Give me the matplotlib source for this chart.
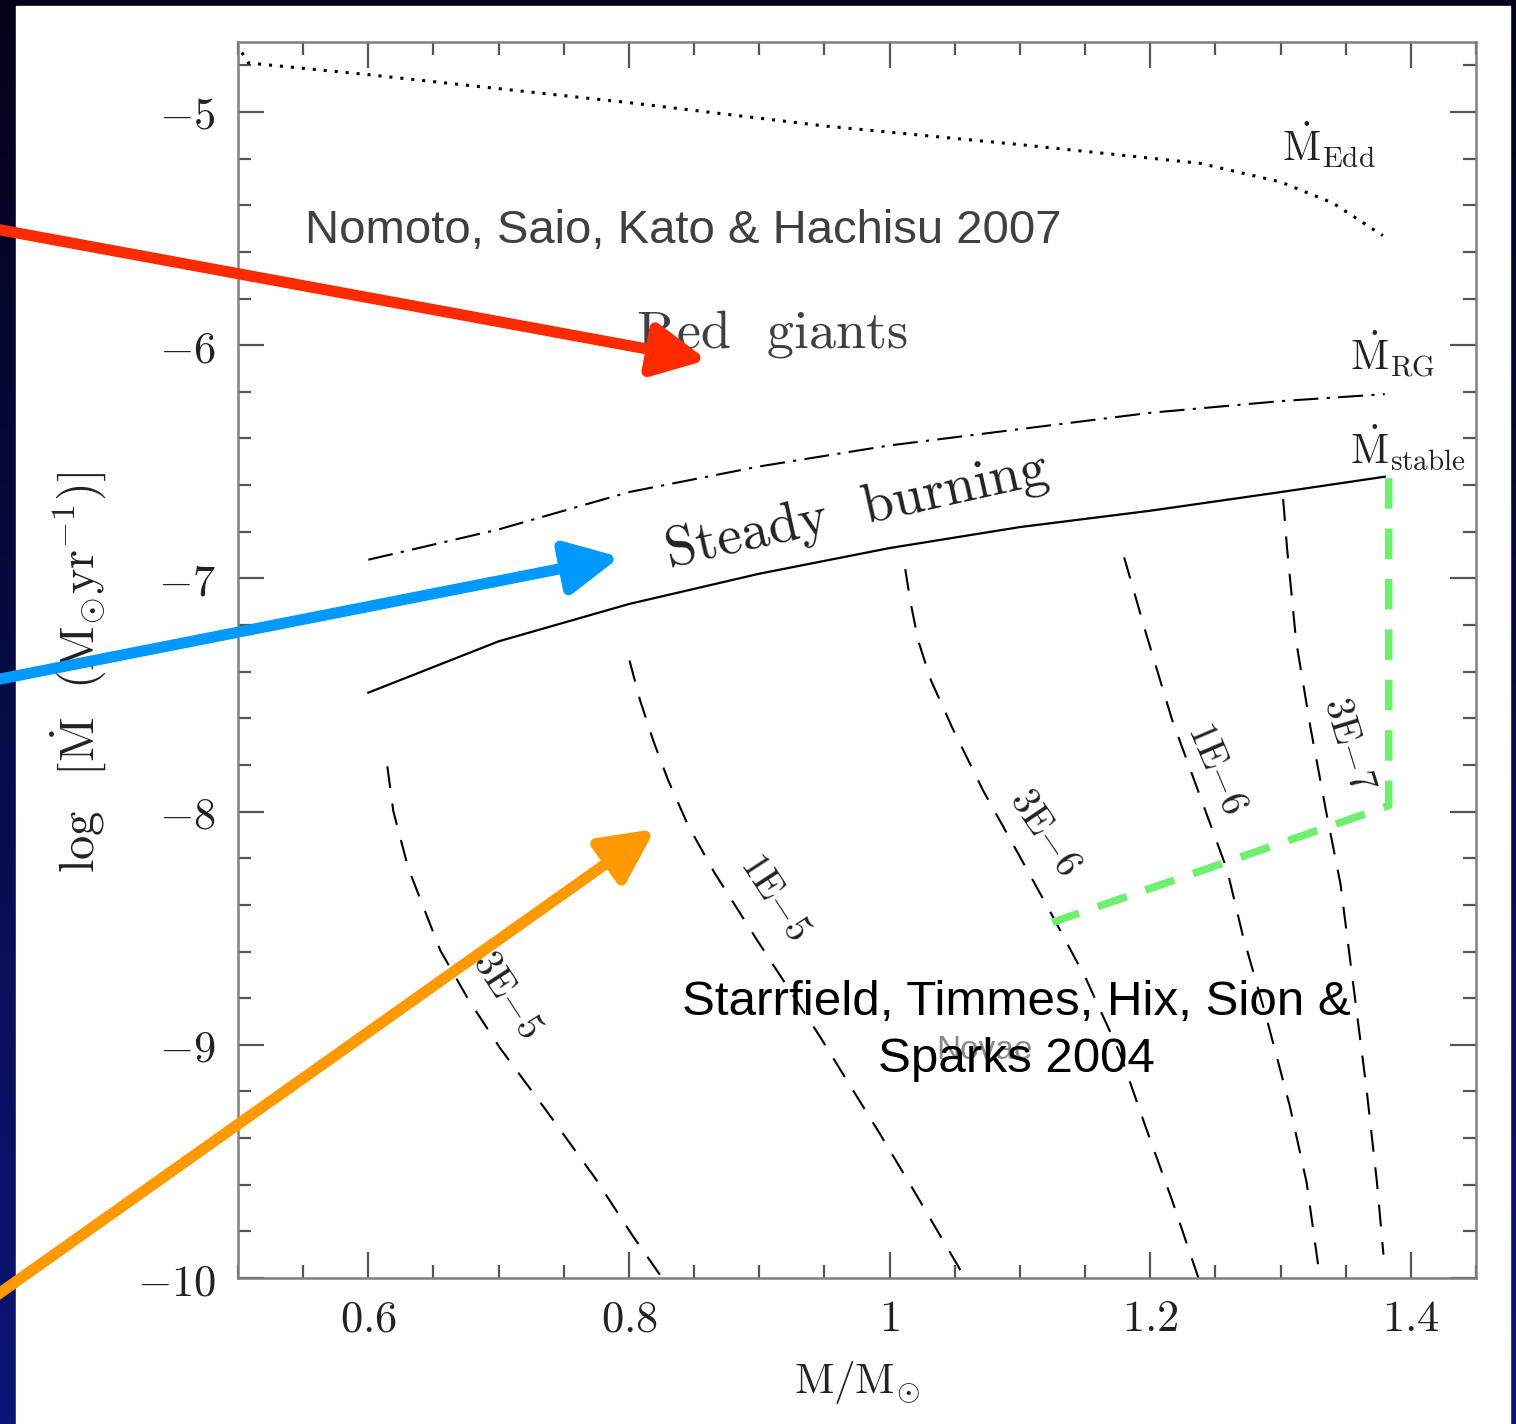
import numpy as np
import matplotlib
matplotlib.use('Agg')
import matplotlib.pyplot as plt
from matplotlib.patches import FancyArrowPatch, Rectangle, ArrowStyle
from matplotlib.ticker import MultipleLocator, FixedLocator, FixedFormatter

plt.rcParams['mathtext.fontset'] = 'cm'

# Eddington limit (dotted)
edd_m = [0.503, 0.508, 0.60, 0.70, 0.80, 0.95, 1.10, 1.238, 1.30, 1.34, 1.3785]
edd_y = [-4.745, -4.79, -4.84, -4.90, -4.96, -5.06, -5.14, -5.22, -5.30, -5.39, -5.53]

# red giant boundary (dash-dot)
rg_m = [0.6, 0.7, 0.8, 0.9, 1.0, 1.1, 1.2, 1.3, 1.38]
rg_y = [-6.92, -6.79, -6.63, -6.52, -6.43, -6.36, -6.29, -6.24, -6.21]

# steady burning lower boundary (solid)
stable_m = [0.6, 0.7, 0.8, 0.9, 1.0, 1.1, 1.2, 1.3, 1.38]
stable_y = [-7.49, -7.27, -7.11, -6.98, -6.87, -6.78, -6.71, -6.63, -6.564]

# accreted mass contours (dashed)
contour_labels = ['3E{-}5', '1E{-}5', '3E{-}6', '1E{-}6', '3E{-}7']
c3e5_m = [0.6146, 0.6192, 0.6307, 0.6552, 0.6767, 0.7012, 0.7358, 0.7741, 0.8025, 0.8255]
c3e5_y = [-7.806, -7.999, -8.243, -8.595, -8.805, -9.015, -9.276, -9.572, -9.816, -10.0]
c1e5_m = [0.8004, 0.8086, 0.8186, 0.8301, 0.8454, 0.8654, 0.8984, 0.9459, 0.9927, 1.0188, 1.0579]
c1e5_y = [-7.352, -7.524, -7.695, -7.866, -8.059, -8.260, -8.552, -8.959, -9.383, -9.627, -10.0]
c3e6_m = [1.012, 1.016, 1.0219, 1.0318, 1.0479, 1.0717, 1.0978, 1.1239, 1.151, 1.177, 1.197, 1.217, 1.237]
c3e6_y = [-6.96, -7.10, -7.266, -7.438, -7.638, -7.909, -8.171, -8.436, -8.72, -9.04, -9.36, -9.67, -10.0]
c1e6_m = [1.180, 1.197, 1.217, 1.238, 1.259, 1.271, 1.289, 1.307, 1.320, 1.330]
c1e6_y = [-6.91, -7.24, -7.61, -7.93, -8.25, -8.53, -8.88, -9.26, -9.59, -9.99]
c3e7_m = [1.302, 1.305, 1.312, 1.323, 1.335, 1.346, 1.356, 1.366, 1.374, 1.379]
c3e7_y = [-6.66, -6.87, -7.27, -7.64, -8.00, -8.31, -8.75, -9.19, -9.59, -9.90]

# green dashed outline
green_m = [1.383, 1.383, 1.125]
green_y = [-6.57, -7.975, -8.475]

x_ticks = [0.6, 0.8, 1.0, 1.2, 1.4]
x_ticklabels = ['0.6', '0.8', '1', '1.2', '1.4']
y_ticks = [-10, -9, -8, -7, -6, -5]
y_ticklabels = ['-10', '-9', '-8', '-7', '-6', '-5']

W, H = 1516, 1424
fig = plt.figure(figsize=(W / 100, H / 100), dpi=100)

# slide background: dark blue gradient with a white panel
bg = fig.add_axes([0, 0, 1, 1], zorder=-10)
t = np.linspace(0, 1, 256)[:, None, None]
top = np.array([2, 2, 24]) / 255
bot = np.array([12, 20, 118]) / 255
grad = top * (1 - t) + bot * t
bg.imshow(np.repeat(grad, 4, axis=1), aspect='auto', extent=[0, 1, 0, 1])
bg.add_patch(Rectangle((16 / W, 0), (1510 - 16) / W, (H - 6) / H, color='white'))
bg.set_xlim(0, 1)
bg.set_ylim(0, 1)
bg.axis('off')

ax = fig.add_axes([238 / W, 1 - 1278 / H, (1476 - 238) / W, (1278 - 42) / H])
ax.set_xlim(0.5, 1.45)
ax.set_ylim(-10, -4.7)

ax.plot(edd_m, edd_y, color='black', lw=2.2, linestyle=(0, (1, 2.6)))
ax.plot(rg_m, rg_y, color='black', lw=1.5, linestyle=(0, (12, 4, 1.5, 4)))
ax.plot(stable_m, stable_y, color='black', lw=1.6)

contours = [(c3e5_m, c3e5_y), (c1e5_m, c1e5_y), (c3e6_m, c3e6_y),
            (c1e6_m, c1e6_y), (c3e7_m, c3e7_y)]
for cm_, cy_ in contours:
    ax.plot(cm_, cy_, color='black', lw=1.5, linestyle=(0, (10.5, 7.5)))

label_pos = [(0.706, -8.786, -57), (0.912, -8.368, -57), (1.119, -8.089, -56),
             (1.251, -7.815, -67), (1.352, -7.712, -73)]
for lab, (lx, ly, rot) in zip(contour_labels, label_pos):
    ax.text(lx, ly, r'$\mathrm{%s}$' % lab, fontsize=28, rotation=rot,
            ha='center', va='center', rotation_mode='anchor', color='#222222')

ax.plot(green_m, green_y, color='#6ef06e', lw=5.5, linestyle=(0, (4, 2.6)))

# curve labels
ax.text(1.301, -5.21, r'$\dot{\mathrm{M}}_{\mathrm{Edd}}$', fontsize=30, color='#222222')
ax.text(1.353, -6.11, r'$\dot{\mathrm{M}}_{\mathrm{RG}}$', fontsize=30, color='#222222')
ax.text(1.353, -6.508, r'$\dot{\mathrm{M}}_{\mathrm{stable}}$', fontsize=30, color='#222222')

ax.text(0.91, -6.011, 'Red  giants', family='cmr10', fontsize=39, color='#404040',
        ha='center', va='baseline')
ax.text(0.975, -6.71, 'Steady  burning', family='cmr10', fontsize=40, color='#222222',
        ha='center', va='center', rotation=12.5, rotation_mode='anchor')
ax.text(1.073, -9.06, 'Novae', family='Liberation Sans', fontsize=24, color='#8a8a8a',
        ha='center', va='baseline')

ax.text(0.5517, -5.561, 'Nomoto, Saio, Kato & Hachisu 2007', family='Liberation Sans',
        fontsize=34, color='#404040', ha='left', va='baseline')
ax.text(1.097, -8.873, 'Starrfield, Timmes, Hix, Sion &', family='Liberation Sans',
        fontsize=35.5, color='black', ha='center', va='baseline')
ax.text(1.097, -9.117, 'Sparks 2004', family='Liberation Sans',
        fontsize=35.5, color='black', ha='center', va='baseline')

# axes styling
ax.xaxis.set_major_locator(FixedLocator(x_ticks))
ax.xaxis.set_major_formatter(FixedFormatter(['$%s$' % s for s in x_ticklabels]))
ax.xaxis.set_minor_locator(MultipleLocator(0.05))
ax.yaxis.set_major_locator(FixedLocator(y_ticks))
ax.yaxis.set_major_formatter(FixedFormatter(['$%s$' % s for s in y_ticklabels]))
ax.yaxis.set_minor_locator(MultipleLocator(0.2))
ax.tick_params(which='both', direction='in', top=True, right=True,
               color='#555555', width=1.6, labelsize=32, labelcolor='#222222')
ax.tick_params(which='major', length=19)
ax.tick_params(which='minor', length=9.5)
ax.tick_params(axis='x', pad=14)
ax.tick_params(axis='y', pad=16)
for sp in ax.spines.values():
    sp.set_color('#808080')
    sp.set_linewidth(1.8)

fig.text(78 / W, 1 - 672 / H,
         r'$\log\ \ [\dot{\mathrm{M}}\ \ (\mathrm{M}_{\odot}\mathrm{yr}^{-1})]$',
         fontsize=35, rotation=90, ha='center', va='center', color='#222222')
fig.text(857 / W, 1 - 1383 / H, r'$\mathrm{M}/\mathrm{M}_{\odot}$',
         fontsize=31, ha='center', va='center', color='#222222')

# slide arrows, in pixel positions
arrows = [((-10, 228), (707, 360), '#ff2a00'),
          ((-10, 681), (620, 557), '#0099ff'),
          ((-10, 1300), (655, 829), '#ff9900')]
for (x0, y0), (x1, y1), col in arrows:
    arr = FancyArrowPatch((x0 / W, 1 - y0 / H), (x1 / W, 1 - y1 / H),
                          transform=fig.transFigure,
                          arrowstyle=ArrowStyle('-|>', head_length=32, head_width=16),
                          color=col, lw=8, shrinkA=0, shrinkB=0, zorder=5)
    fig.add_artist(arr)

fig.savefig('out.png', dpi=100)
